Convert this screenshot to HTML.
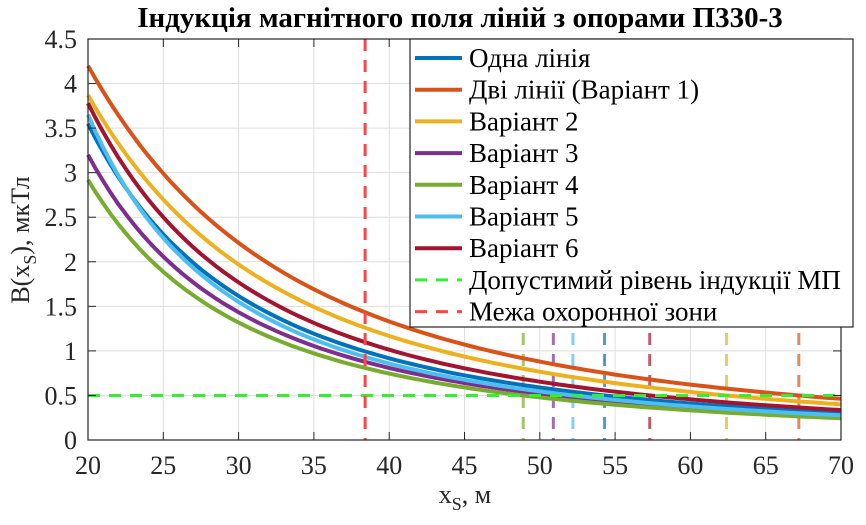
<!DOCTYPE html>
<html><head><meta charset="utf-8"><style>
body{margin:0;background:#fff;}
svg{display:block;font-family:"Liberation Serif",serif;}
</style></head><body>
<svg id="s" width="866" height="525" xmlns="http://www.w3.org/2000/svg">
<rect width="866" height="525" fill="#fff"/>
<g id="grid"></g>
<g id="curves"></g>
<rect x="88" y="39" width="753" height="401" fill="none" stroke="#262626" stroke-width="1.2"/>
<g id="ticks" font-size="26" fill="#262626"></g>
<text x="460" y="27" text-anchor="middle" font-size="29" font-weight="bold">Індукція магнітного поля ліній з опорами П330-3</text>
<text transform="translate(29,240) rotate(-90)" text-anchor="middle" font-size="26" fill="#262626">B(x<tspan font-size="18" dy="7">S</tspan><tspan dy="-7">), мкТл</tspan></text>
<text x="465" y="503" text-anchor="middle" font-size="26" fill="#262626">x<tspan font-size="18" dy="7">S</tspan><tspan dy="-7">, м</tspan></text>
<g id="legend" font-size="27" fill="#000"></g>
</svg>
<script>
const NS="http://www.w3.org/2000/svg";
function el(p,t,a,txt){const e=document.createElementNS(NS,t);for(const k in a)e.setAttribute(k,a[k]);if(txt)e.textContent=txt;p.appendChild(e);return e;}
const X=x=>88+(x-20)*753/50, Y=y=>440-y*401/4.5;
const g=document.getElementById('grid'),tk=document.getElementById('ticks'),cv=document.getElementById('curves'),lg=document.getElementById('legend');
for(let x=20;x<=70;x+=5){const px=X(x);
 if(x>20&&x<70)el(g,'line',{x1:px,x2:px,y1:39,y2:440,stroke:'#dedede','stroke-width':1});
 el(tk,'line',{x1:px,x2:px,y1:440,y2:432,stroke:'#262626'});el(tk,'line',{x1:px,x2:px,y1:39,y2:47,stroke:'#262626'});
 el(tk,'text',{x:px,y:474,'text-anchor':'middle'},String(x));}
for(let i=0;i<=9;i++){const v=i*0.5,py=Y(v);
 if(i>0&&i<9)el(g,'line',{x1:88,x2:841,y1:py,y2:py,stroke:'#dedede','stroke-width':1});
 el(tk,'line',{x1:88,x2:96,y1:py,y2:py,stroke:'#262626'});el(tk,'line',{x1:841,x2:833,y1:py,y2:py,stroke:'#262626'});
 el(tk,'text',{x:77,y:py+9,'text-anchor':'end'},String(v));}
const S=[
 ['#0072BD',3.55,54.3,'Одна лінія'],
 ['#D95319',4.2,67.2,'Дві лінії (Варіант 1)'],
 ['#EDB120',3.87,62.4,'Варіант 2'],
 ['#7E2F8E',3.2,50.9,'Варіант 3'],
 ['#77AC30',2.92,48.9,'Варіант 4'],
 ['#4DBEEE',3.65,52.2,'Варіант 5'],
 ['#A2142F',3.78,57.3,'Варіант 6']];
S.forEach(s=>el(cv,'line',{x1:X(s[2]),x2:X(s[2]),y1:39,y2:440,stroke:s[0],'stroke-width':3,'stroke-dasharray':'12 9','stroke-opacity':0.7}));
S.forEach(s=>{const b0=s[1],x0=s[2];const c=(0.5*x0*x0-400*b0)/(b0-0.5),a=b0*(400+c);
 let p='';for(let x=20;x<=70.01;x+=0.5){p+=(p?'L':'M')+X(x).toFixed(1)+','+Y(a/(x*x+c)).toFixed(1);}
 el(cv,'path',{d:p,fill:'none',stroke:s[0],'stroke-width':4});});
el(cv,'line',{x1:88,x2:841,y1:Y(0.5),y2:Y(0.5),stroke:'#33ee33','stroke-width':3,'stroke-dasharray':'12 9'});
el(cv,'line',{x1:X(38.4),x2:X(38.4),y1:39,y2:440,stroke:'#ff4444','stroke-width':3,'stroke-dasharray':'12 9'});
el(lg,'rect',{x:410,y:39,width:443,height:288,fill:'#fff',stroke:'#262626','stroke-width':1.2});
const L=S.map(s=>[s[0],s[3],false]).concat([['#33ee33','Допустимий рівень індукції МП',true],['#ff4444','Межа охоронної зони',true]]);
L.forEach((l,i)=>{const y=58+i*31.7;
 const a={x1:415,x2:462,y1:y,y2:y,stroke:l[0],'stroke-width':l[2]?3:4};if(l[2])a['stroke-dasharray']='12 9';
 el(lg,'line',a);el(lg,'text',{x:469,y:y+9},l[1]);});
</script>
</body></html>
